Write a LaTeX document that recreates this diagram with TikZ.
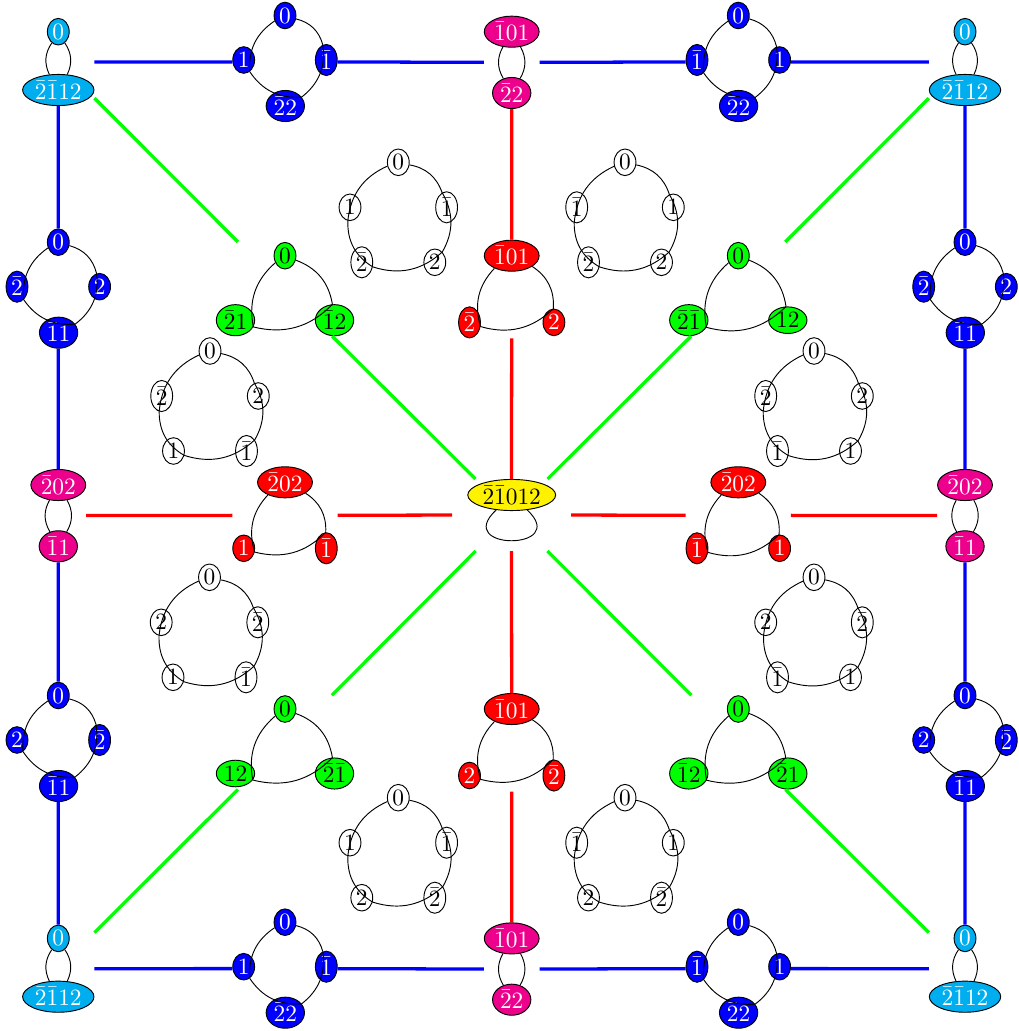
\documentclass[tikz,border=0pt]{standalone}
\usetikzlibrary{shapes.geometric,fit}
\definecolor{cyanC}{RGB}{0,174,239}
\definecolor{magC}{RGB}{236,0,140}
\definecolor{yelC}{RGB}{255,242,0}
\tikzset{
  nd/.style={ellipse,draw=black,line width=0.4pt,inner sep=0.8pt},
  cyanN/.style={nd,fill=cyanC,text=white},
  blueN/.style={nd,fill=blue,text=white},
  magN/.style={nd,fill=magC,text=white},
  redN/.style={nd,fill=red,text=white},
  greenN/.style={nd,fill=green,text=black},
  yelN/.style={nd,fill=yelC,text=black},
  whiteN/.style={nd,fill=white,text=black},
  cyc/.style={draw=black,line width=0.4pt},
  cellbox/.style={rectangle,inner sep=0pt,outer sep=0pt},
  blueL/.style={draw=blue,line width=1.4pt},
  redL/.style={draw=red,line width=1.4pt},
  greenL/.style={draw=green,line width=1.4pt},
}
% two-node cell: name, centre, style, top text, bottom text, bottom y
\newcommand\TwoCell[6]{%
  \begin{scope}[shift={#2}]
    \node[#3] (#1a) at (0,-30.3) {$#4$};
    \node[#3] (#1b) at (0,#6) {$#5$};
  \end{scope}
  \draw[cyc] (#1a) to[bend left=30] (#1b) (#1a) to[bend right=30] (#1b);
  \node[cellbox,fit=(#1a)(#1b)] (#1) {};
}
% blue four-cycle: name, centre, top, left, right, bottom
\newcommand\FourCell[6]{%
  \begin{scope}[shift={#2}]
    \node[blueN] (#1t) at (0,-46.5) {$#3$};
    \node[blueN] (#1l) at (-41.3,-2) {$#4$};
    \node[blueN] (#1r) at (41.3,-2) {$#5$};
    \node[blueN] (#1b) at (0.3,44) {$#6$};
  \end{scope}
  \draw[cyc] (#1t) to[bend left=30] (#1r) to[bend left=30] (#1b)
    to[bend left=30] (#1l) to[bend left=30] (#1t);
  \node[cellbox,fit=(#1t)(#1l)(#1r)(#1b)] (#1) {};
}
% triangle: name, centre, style, top, left, right, dx, bottom y
\newcommand\TriCell[8]{%
  \begin{scope}[shift={#2}]
    \node[#3] (#1t) at (0,-33) {$#4$};
    \node[#3] (#1l) at (-#7,#8) {$#5$};
    \node[#3] (#1r) at (#7,#8) {$#6$};
  \end{scope}
  \draw[cyc] (#1t) to[bend left=30] (#1r) to[bend left=30] (#1l)
    to[bend left=30] (#1t);
  \node[cellbox,fit=(#1t)(#1l)(#1r)] (#1) {};
}
% white five-cycle: name, top position, top, left, right, bottom-left, bottom-right
\newcommand\PentCell[7]{%
  \begin{scope}[shift={#2}]
    \node[whiteN] (#1t) at (0,0) {$#3$};
    \node[whiteN] (#1l) at (-48.3,45) {$#4$};
    \node[whiteN] (#1r) at (48.3,45) {$#5$};
    \node[whiteN] (#1p) at (-36.5,100) {$#6$};
    \node[whiteN] (#1q) at (36.5,100) {$#7$};
  \end{scope}
  \draw[cyc] (#1t) to[bend left=30] (#1r) to[bend left=30] (#1q)
    to[bend left=30] (#1p) to[bend left=30] (#1l) to[bend left=30] (#1t);
}
\begin{document}
\begin{tikzpicture}[x=0.428pt,y=-0.428pt]
\useasboundingbox (0,0) rectangle (1018,1031);

% corner cells
\TwoCell{TL}{(58.3,62)}{cyanN}{0}{\bar2\bar1 12}{28}
\TwoCell{TR}{(965,62)}{cyanN}{0}{\bar2\bar1 12}{28}
\TwoCell{BL}{(58.3,968.7)}{cyanN}{0}{\bar2\bar1 12}{28}
\TwoCell{BR}{(965,968.7)}{cyanN}{0}{\bar2\bar1 12}{28}
% magenta cells
\TwoCell{TM}{(511.7,62)}{magN}{\bar101}{\bar22}{31}
\TwoCell{BM}{(511.7,968.7)}{magN}{\bar101}{\bar22}{31}
\TwoCell{LM}{(58.3,515.3)}{magN}{\bar202}{\bar11}{31}
\TwoCell{RM}{(965,515.3)}{magN}{\bar202}{\bar11}{31}
% blue cells
\FourCell{Ta}{(285,62)}{0}{1}{\bar1}{\bar22}
\FourCell{Tb}{(738.3,62)}{0}{\bar1}{1}{\bar22}
\FourCell{Ba}{(285,968.7)}{0}{1}{\bar1}{\bar22}
\FourCell{Bb}{(738.3,968.7)}{0}{\bar1}{1}{\bar22}
\FourCell{La}{(58.3,288.7)}{0}{\bar2}{2}{\bar11}
\FourCell{Lb}{(58.3,742)}{0}{2}{\bar2}{\bar11}
\FourCell{Ra}{(965,288.7)}{0}{\bar2}{2}{\bar11}
\FourCell{Rb}{(965,742)}{0}{2}{\bar2}{\bar11}
% green cells
\TriCell{Ga}{(285,288.7)}{greenN}{0}{\bar21}{\bar12}{49.5}{31.5}
\TriCell{Gb}{(738.3,288.7)}{greenN}{0}{\bar2\bar1}{12}{49.5}{31.5}
\TriCell{Gc}{(285,742)}{greenN}{0}{12}{\bar2\bar1}{49.5}{31.5}
\TriCell{Gd}{(738.3,742)}{greenN}{0}{\bar12}{\bar21}{49.5}{31.5}
% red cells
\TriCell{Rt}{(511.7,288.7)}{redN}{\bar101}{\bar2}{2}{42.2}{33.7}
\TriCell{Rl}{(285,515.3)}{redN}{\bar202}{1}{\bar1}{41.3}{33}
\TriCell{Rr}{(738.3,515.3)}{redN}{\bar202}{\bar1}{1}{41.3}{33}
\TriCell{Rd}{(511.7,742)}{redN}{\bar101}{2}{\bar2}{42.2}{33.5}
% centre
\node[yelN] (Y) at (511.7,495) {$\bar2\bar1012$};
\coordinate (Ycl) at (452,551);
\coordinate (Ycr) at (571,551);
\draw[cyc] (Y.-136) .. controls (Ycl) and (Ycr) .. (Y.-44);
\node[cellbox,fit=(Y)(Ycl)(Ycr)] (C) {};
% white five-cycles
\PentCell{Pa}{(398.3,162.3)}{0}{1}{\bar1}{\bar2}{2}
\PentCell{Pb}{(625,162.3)}{0}{\bar1}{1}{\bar2}{2}
\PentCell{Pc}{(210,351)}{0}{\bar2}{2}{1}{\bar1}
\PentCell{Pd}{(814,351)}{0}{\bar2}{2}{\bar1}{1}
\PentCell{Pe}{(209.5,577.3)}{0}{2}{\bar2}{1}{\bar1}
\PentCell{Pf}{(814,577.3)}{0}{2}{\bar2}{\bar1}{1}
\PentCell{Pg}{(398.3,797.7)}{0}{1}{\bar1}{2}{\bar2}
\PentCell{Ph}{(625,797.7)}{0}{\bar1}{1}{2}{\bar2}

% blue connectors
\draw[blueL] (TL) -- (Ta) (Ta) -- (TM) (TM) -- (Tb) (Tb) -- (TR)
  (BL) -- (Ba) (Ba) -- (BM) (BM) -- (Bb) (Bb) -- (BR)
  (TL) -- (La) (La) -- (LM) (LM) -- (Lb) (Lb) -- (BL)
  (TR) -- (Ra) (Ra) -- (RM) (RM) -- (Rb) (Rb) -- (BR);
% red connectors
\draw[redL] (TM) -- (Rt) (Rt) -- (C) (C) -- (Rd) (Rd) -- (BM)
  (LM) -- (Rl) (Rl) -- (C) (C) -- (Rr) (Rr) -- (RM);
% green connectors
\draw[greenL] (TL) -- (Ga) (Ga) -- (C) (C) -- (Gd) (Gd) -- (BR)
  (TR) -- (Gb) (Gb) -- (C) (C) -- (Gc) (Gc) -- (BL);
\end{tikzpicture}
\end{document}
